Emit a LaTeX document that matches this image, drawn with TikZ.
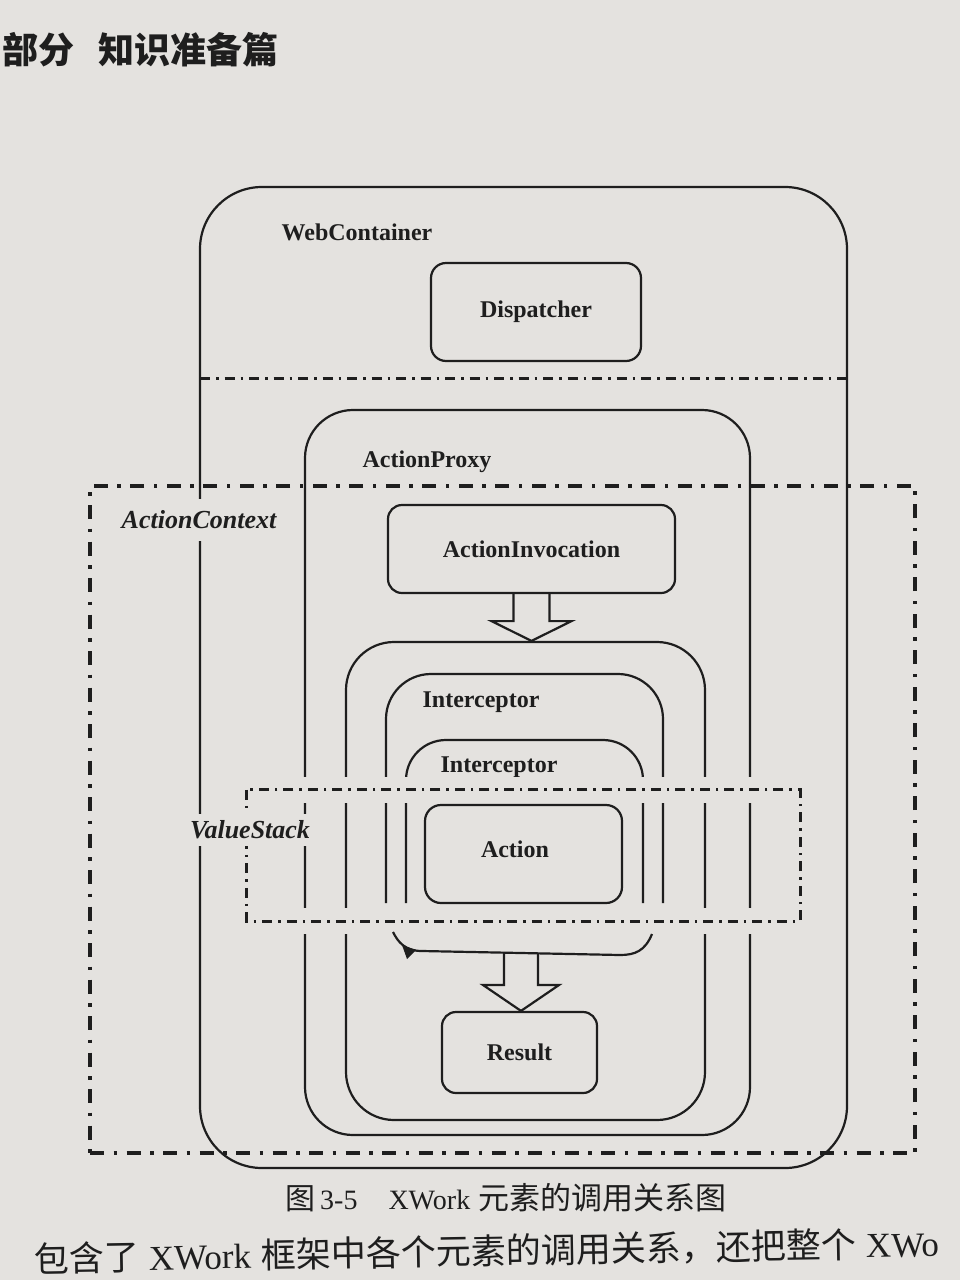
\documentclass[tikz,border=0pt]{standalone}
\usepackage{fontspec}
\setmainfont{Liberation Serif}
\newfontfamily\cjk{Noto Sans CJK SC}
\usetikzlibrary{calc}
\definecolor{paper}{RGB}{228,226,223}
\definecolor{ink}{RGB}{30,30,30}
\begin{document}
\begin{tikzpicture}[x=1pt,y=-1pt,
  sline/.style={draw=ink, line width=2.2pt},
  lbl/.style={text=ink, font=\fontsize{24}{28}\selectfont\bfseries, inner sep=0pt},
  ilbl/.style={text=ink, font=\fontsize{26}{30}\selectfont\bfseries\itshape, fill=paper, inner xsep=1.5pt},
  rbox/.style={sline, rectangle, rounded corners=15pt, inner sep=0pt, text=ink, font=\fontsize{24}{28}\selectfont\bfseries},
  ddot/.style={draw=ink, line width=3pt, dash pattern=on 10pt off 6pt on 2.5pt off 6pt},
  bigdd/.style={draw=ink, line width=3.6pt, dash pattern=on 14pt off 9.5pt on 3.5pt off 9.5pt},
  halo/.style={draw=paper, line width=26pt},
  blockarr/.style={sline, line join=miter}
]
\fill[paper] (0,0) rectangle (960,1280);
\useasboundingbox (0,0) rectangle (960,1280);
\clip (0,0) rectangle (960,1280);

% header
\node[anchor=west, text=ink, font=\cjk\bfseries\fontsize{36}{40}\selectfont, inner sep=0pt] (hdra) at (2,50) {部分};
\node[anchor=west, text=ink, font=\cjk\bfseries\fontsize{36}{40}\selectfont, inner sep=0pt] (hdrb) at (98,50) {知识准备篇};

% WebContainer
\node[rbox, rounded corners=62pt, minimum width=647pt, minimum height=981pt] (webc) at (523.5,677.5) {};
\node[lbl] (webclbl) at (357,232) {WebContainer};
\node[rbox, minimum width=210pt, minimum height=98pt] (disp) at (536,312) {Dispatcher};
\coordinate (divL) at (200,378);
\coordinate (divR) at (847,378);
\draw[ddot] (divL) -- (divR);

% ActionContext
\node[bigdd, rectangle, minimum width=825pt, minimum height=667pt, inner sep=0pt] (actx) at (502.5,819.5) {};

% ActionProxy
\node[rbox, rounded corners=48pt, minimum width=445pt, minimum height=725pt] (proxy) at (527.5,772.5) {};
\node[lbl] (proxylbl) at (427,462) {ActionProxy};
\node[rbox, rounded corners=14pt, minimum width=287pt, minimum height=88pt] (inv) at (531.5,549) {ActionInvocation};

% interceptor chain
\node[rbox, rounded corners=48pt, minimum width=359pt, minimum height=478pt] (chain) at (525.5,881) {};
\draw[blockarr] ($(inv.south)+(-18,0)$) -- ($(inv.south)+(-18,27)$) -- ($(inv.south)+(-40,27)$)
  -- (inv.south |- chain.north) -- ($(inv.south)+(40,27)$) -- ($(inv.south)+(18,27)$) -- ($(inv.south)+(18,0)$);

\draw[sline, rounded corners=45pt] (386,903) -- (386,674) -- (663,674) -- (663,903);
\node[lbl] (int1lbl) at (481,702) {Interceptor};
\draw[sline, rounded corners=40pt] (406,903) -- (406,740) -- (643,740) -- (643,903);
\node[lbl] (int2lbl) at (499,767) {Interceptor};
\node[rbox, rounded corners=16pt, minimum width=197pt, minimum height=98pt] (act) at (523.5,854) {};
\node[lbl] (actlbl) at (515,849) {Action};

% ValueStack
\path node[rectangle, minimum width=553pt, minimum height=131pt, inner sep=0pt] (vs) at (523.5,855.5) {};
\draw[halo] (vs.north west) rectangle (vs.south east);
\draw[ddot, line width=2.7pt] (vs.north west) rectangle (vs.south east);

% return curve and Result
\draw[sline] (652,934) .. controls (645,951) and (635,955) .. (620,955) -- (422,951) .. controls (405,951) and (398,942) .. (393,932);
\fill[ink] (402,945) -- (416,950) -- (407,959) -- cycle;
\coordinate (ub) at (521,953);
\node[rbox, rounded corners=14pt, minimum width=155pt, minimum height=81pt] (res) at (519.5,1052.5) {Result};
\draw[blockarr] ($(ub)+(-17,0)$) -- ($(ub)+(-17,32)$) -- ($(ub)+(-38,32)$)
  -- (ub |- res.north) -- ($(ub)+(38,32)$) -- ($(ub)+(17,32)$) -- ($(ub)+(17,0)$);

% italic labels over lines
\node[ilbl, inner ysep=12pt] (actxlbl) at (199,520) {ActionContext};
\node[ilbl, inner ysep=7pt] (vslbl) at (250,830) {ValueStack};

% caption
\node[anchor=west, text=ink, font=\fontsize{28}{32}\selectfont, inner sep=0pt] (cap) at (285,1198)
  {{\cjk\fontsize{30}{34}\selectfont 图}\hspace{5pt}3-5\hspace{31pt}XWork\hspace{8pt}{\cjk\fontsize{31}{34}\selectfont 元素的调用关系图}};

% following text line
\node[anchor=base west, rotate=1, text=ink, font=\fontsize{35}{40}\selectfont, inner sep=0pt] (foot) at (34,1272)
  {{\cjk 包含了}\hspace{10pt}XWork\hspace{10pt}{\cjk 框架中各个元素的调用关系，还把整个}\hspace{10pt}XWo};
\end{tikzpicture}
\end{document}
